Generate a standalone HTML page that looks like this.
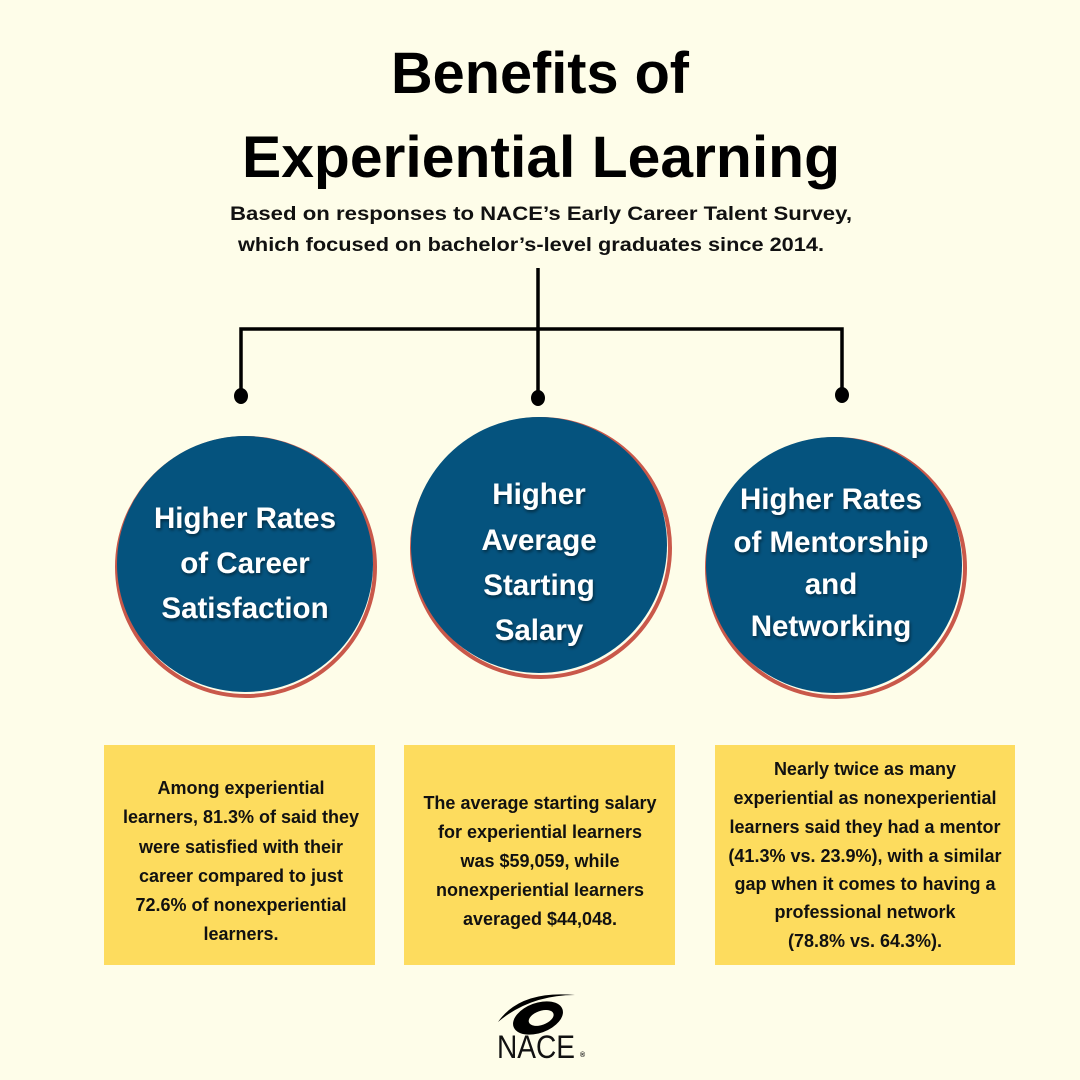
<!DOCTYPE html>
<html><head><meta charset="utf-8"><style>
html,body{margin:0;padding:0;background:#fefde9;}
svg{display:block;}
text{font-family:"Liberation Sans",sans-serif;font-weight:bold;}
</style></head><body>
<svg width="1080" height="1080" viewBox="0 0 1080 1080" xmlns="http://www.w3.org/2000/svg">
<defs><filter id="sh"><feDropShadow dx="1" dy="2" stdDeviation="1.5" flood-color="#000" flood-opacity="0.5"/></filter></defs>
<rect width="1080" height="1080" fill="#fefde9"/>
<text x="540" y="93" font-size="58" text-anchor="middle" fill="#000" textLength="298" lengthAdjust="spacingAndGlyphs">Benefits of</text>
<text x="541" y="177" font-size="58" text-anchor="middle" fill="#000" textLength="598" lengthAdjust="spacingAndGlyphs">Experiential Learning</text>
<text x="541" y="220" font-size="19" text-anchor="middle" fill="#111" textLength="622" lengthAdjust="spacingAndGlyphs">Based on responses to NACE’s Early Career Talent Survey,</text>
<text x="531" y="251" font-size="19" text-anchor="middle" fill="#111" textLength="586" lengthAdjust="spacingAndGlyphs">which focused on bachelor’s-level graduates since 2014.</text>
<g stroke="#000" stroke-width="3.5" fill="none">
<line x1="538" y1="268" x2="538" y2="396"/>
<polyline points="241,396 241,329 842,329 842,394"/>
</g>
<ellipse cx="241" cy="396" rx="7" ry="8"/>
<ellipse cx="538" cy="398" rx="7" ry="8"/>
<ellipse cx="842" cy="395" rx="7" ry="8"/>
<circle cx="246" cy="567" r="129" fill="none" stroke="#c9584a" stroke-width="4"/>
<circle cx="245" cy="564" r="128" fill="#05537e"/>
<circle cx="541" cy="548" r="129" fill="none" stroke="#c9584a" stroke-width="4"/>
<circle cx="539" cy="545" r="128" fill="#05537e"/>
<circle cx="836" cy="568" r="129" fill="none" stroke="#c9584a" stroke-width="4"/>
<circle cx="834" cy="565" r="128" fill="#05537e"/>
<g fill="#fff" font-size="29.5" text-anchor="middle" filter="url(#sh)">
<text x="245" y="528">Higher Rates</text>
<text x="245" y="573">of Career</text>
<text x="245" y="618">Satisfaction</text>
<text x="539" y="504">Higher</text>
<text x="539" y="550">Average</text>
<text x="539" y="595">Starting</text>
<text x="539" y="640">Salary</text>
<text x="831" y="509">Higher Rates</text>
<text x="831" y="552">of Mentorship</text>
<text x="831" y="594">and</text>
<text x="831" y="636">Networking</text>
</g>
<rect x="104" y="745" width="271" height="220" fill="#fddc5e"/>
<rect x="404" y="745" width="271" height="220" fill="#fddc5e"/>
<rect x="715" y="745" width="300" height="220" fill="#fddc5e"/>
<g fill="#111" font-size="18" text-anchor="middle">
<text x="241" y="794">Among experiential</text>
<text x="241" y="823">learners, 81.3% of said they</text>
<text x="241" y="853">were satisfied with their</text>
<text x="241" y="882">career compared to just</text>
<text x="241" y="911">72.6% of nonexperiential</text>
<text x="241" y="940">learners.</text>
<text x="540" y="809">The average starting salary</text>
<text x="540" y="838">for experiential learners</text>
<text x="540" y="867">was $59,059, while</text>
<text x="540" y="896">nonexperiential learners</text>
<text x="540" y="925">averaged $44,048.</text>
<text x="865" y="775">Nearly twice as many</text>
<text x="865" y="804">experiential as nonexperiential</text>
<text x="865" y="833">learners said they had a mentor</text>
<text x="865" y="862">(41.3% vs. 23.9%), with a similar</text>
<text x="865" y="890">gap when it comes to having a</text>
<text x="865" y="918">professional network</text>
<text x="865" y="947">(78.8% vs. 64.3%).</text>
</g>
<g transform="translate(538,1018) rotate(-20)">
<ellipse cx="0" cy="0" rx="26" ry="15" fill="#000"/>
<ellipse cx="3" cy="1" rx="13" ry="7" fill="#fefde9"/>
</g>
<path d="M498,1022 Q520,990 575,995 Q530,995 498,1022Z" fill="#000"/>
<text x="536" y="1058" font-size="32" text-anchor="middle" fill="#111" style="font-weight:normal" textLength="78" lengthAdjust="spacingAndGlyphs">NACE</text>
<text x="580" y="1057" font-size="7" fill="#111">®</text>
</svg>
</body></html>
